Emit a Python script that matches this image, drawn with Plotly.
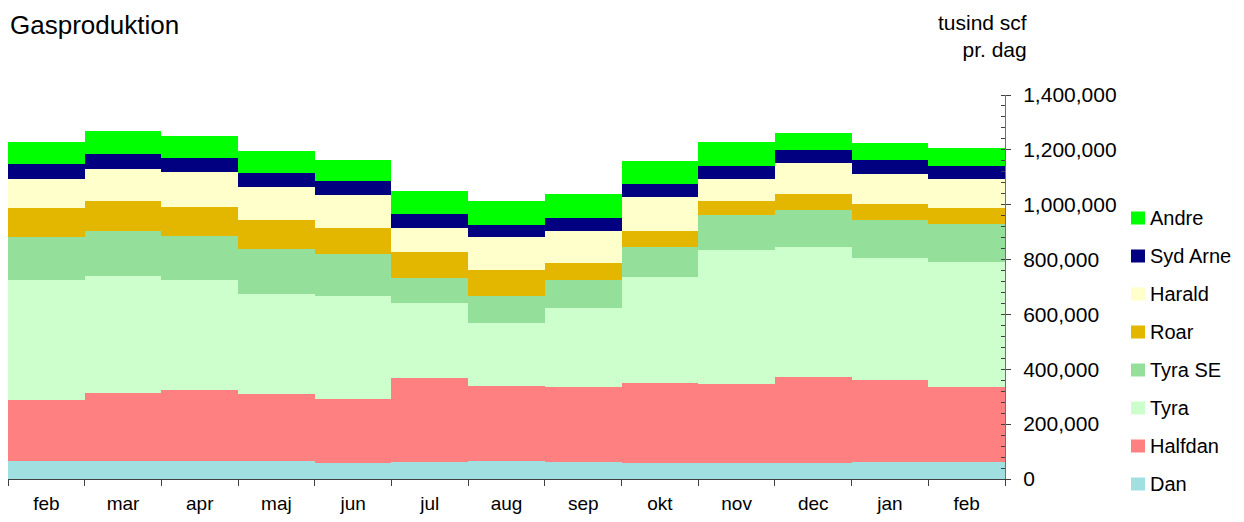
import plotly.graph_objects as go

months = ["feb", "mar", "apr", "maj", "jun", "jul", "aug", "sep", "okt", "nov", "dec", "jan", "feb"]

dan      = [65700, 65700, 65700, 65700, 59600, 63300, 65700, 62000, 59600, 59600, 59600, 62000, 62000]
halfdan  = [222600, 248200, 259200, 244600, 232400, 305400, 273800, 273800, 290800, 287200, 312700, 299300, 273800]
tyra     = [438000, 427000, 401500, 365000, 376000, 273800, 230000, 288400, 386900, 489100, 474500, 445300, 456300]
tyra_se  = [154600, 164300, 160600, 164300, 153300, 91300, 98600, 102200, 109500, 127800, 135000, 138700, 138700]
roar     = [108300, 109500, 105900, 105900, 94900, 94900, 94900, 62000, 58400, 51100, 58400, 58400, 58400]
harald   = [105900, 116800, 127800, 120500, 120500, 87600, 120500, 116800, 124100, 80300, 113200, 109500, 105900]
syd_arne = [54800, 52300, 51100, 51100, 51100, 51100, 43800, 47500, 47500, 47500, 47500, 51100, 47500]
andre    = [80300, 86400, 80300, 80300, 76700, 84000, 87600, 87600, 84000, 87600, 62000, 62000, 65700]

y_ticks = [0, 200000, 400000, 600000, 800000, 1000000, 1200000, 1400000]

series = [
    ("Dan", dan, "#A0E0E0"),
    ("Halfdan", halfdan, "#FF8080"),
    ("Tyra", tyra, "#CCFFCC"),
    ("Tyra SE", tyra_se, "#94E09A"),
    ("Roar", roar, "#E3B600"),
    ("Harald", harald, "#FFFFCC"),
    ("Syd Arne", syd_arne, "#000080"),
    ("Andre", andre, "#00FF00"),
]

x = list(range(len(months)))

FONT = "Liberation Sans, Arial, sans-serif"
OFF = 8  # page body margin in the browser
W, H = 1244 - OFF, 522 - OFF
ML, MR, MT, MB = 0, 239, 87, 43
PW, PH = W - ML - MR, H - MT - MB


def px_x(p):
    """screen pixel -> paper x"""
    return (p - OFF - ML) / PW


def px_y(p):
    """screen pixel -> paper y"""
    return (H - MB - (p - OFF)) / PH


fig = go.Figure()
for name, vals, col in series:
    fig.add_trace(go.Bar(
        x=x, y=vals, name=name,
        marker=dict(color=col, line=dict(width=0)),
        hovertemplate=name + ": %{y:,d}<extra></extra>",
    ))

# legend drawn as swatches + labels (top entry = top of stack)
shapes = []
annotations = []
for i, (name, vals, col) in enumerate(reversed(series)):
    cy = 218 + 38 * i
    shapes.append(dict(type="rect", xref="paper", yref="paper",
                       x0=px_x(1131), x1=px_x(1145), y0=px_y(cy + 6.5), y1=px_y(cy - 6.5),
                       fillcolor=col, line=dict(width=0), layer="above"))
    annotations.append(dict(text=name, xref="paper", yref="paper",
                            x=px_x(1148), y=px_y(cy), xanchor="left", yanchor="middle",
                            showarrow=False, font=dict(size=20, family=FONT, color="black")))

annotations.append(dict(text="Gasproduktion", xref="paper", yref="paper",
                        x=px_x(8), y=px_y(8), xanchor="left", yanchor="top",
                        showarrow=False, font=dict(size=26, family=FONT, color="black")))
annotations.append(dict(text="tusind scf<br>pr. dag", xref="paper", yref="paper",
                        x=px_x(1029), y=px_y(36), xanchor="right", yanchor="middle",
                        align="right", showarrow=False, font=dict(size=21, family=FONT, color="black")))

fig.update_layout(
    width=W, height=H,
    barmode="stack", bargap=0,
    paper_bgcolor="white", plot_bgcolor="white",
    margin=dict(l=ML, r=MR, t=MT, b=MB, autoexpand=False),
    font=dict(family=FONT, size=19, color="black"),
    showlegend=False,
    xaxis=dict(
        automargin=False,
        range=[-0.5, len(months) - 0.5],
        tickvals=x, ticktext=months,
        ticks="outside", ticklen=7, tickcolor="rgba(0,0,0,0)",
        showline=True, linecolor="#404040", linewidth=1,
        showgrid=False, zeroline=False,
        tickfont=dict(size=19),
        minor=dict(tickvals=[i - 0.5 for i in range(len(months) + 1)],
                   ticks="outside", ticklen=6, tickcolor="#404040", showgrid=False),
        fixedrange=True,
    ),
    yaxis=dict(
        automargin=False,
        side="right", range=[0, 1400000],
        tickvals=y_ticks,
        tickformat=",d",
        ticks="outside", ticklen=5, tickcolor="#404040",
        ticklabelstandoff=8,
        showline=True, linecolor="#707070", linewidth=1,
        showgrid=False, zeroline=False,
        tickfont=dict(size=21),
        minor=dict(dtick=40000, tick0=0, ticks="inside", ticklen=4, tickcolor="#404040", showgrid=False),
        fixedrange=True,
    ),
    shapes=shapes,
    annotations=annotations,
)

fig.write_html("out.html")
